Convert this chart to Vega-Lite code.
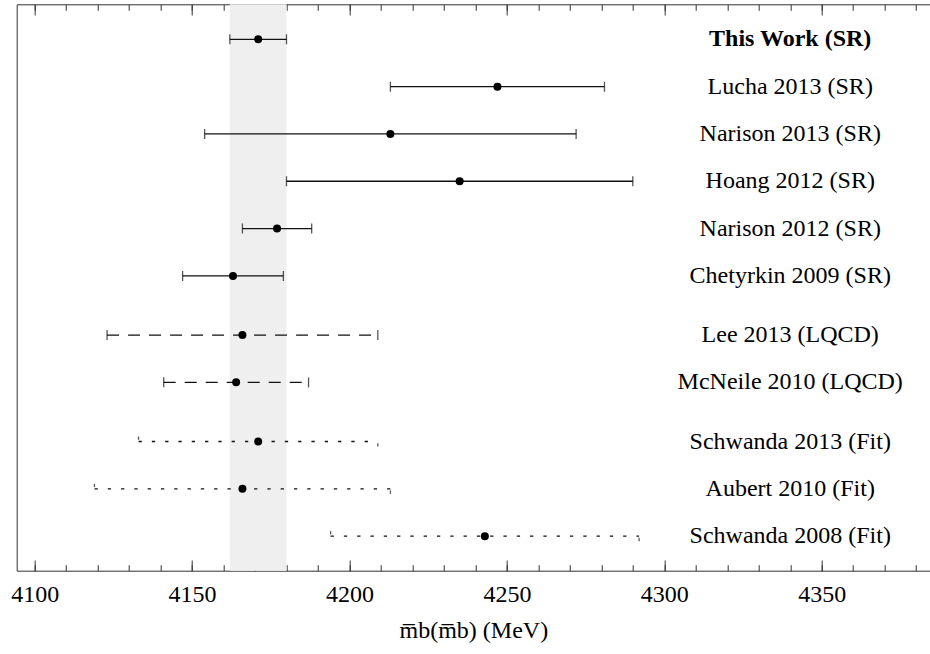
{
  "$schema": "https://vega.github.io/schema/vega-lite/v6.json",
  "width": 913.3,
  "height": 566.4,
  "autosize": "none",
  "padding": {"left": 16.7, "top": 4.3, "right": 0, "bottom": 83.3},
  "background": "white",
  "config": {"view": {"stroke": null}, "font": "Liberation Serif"},
  "data": {"values": [
    {"name": "This Work (SR)", "value": 4171, "lo": 4162, "hi": 4180, "row": 0, "type": "SR"},
    {"name": "Lucha 2013 (SR)", "value": 4247, "lo": 4213, "hi": 4281, "row": 1, "type": "SR"},
    {"name": "Narison 2013 (SR)", "value": 4213, "lo": 4154, "hi": 4272, "row": 2, "type": "SR"},
    {"name": "Hoang 2012 (SR)", "value": 4235, "lo": 4180, "hi": 4290, "row": 3, "type": "SR"},
    {"name": "Narison 2012 (SR)", "value": 4177, "lo": 4166, "hi": 4188, "row": 4, "type": "SR"},
    {"name": "Chetyrkin 2009 (SR)", "value": 4163, "lo": 4147, "hi": 4179, "row": 5, "type": "SR"},
    {"name": "Lee 2013 (LQCD)", "value": 4166, "lo": 4123, "hi": 4209, "row": 6.25, "type": "LQCD"},
    {"name": "McNeile 2010 (LQCD)", "value": 4164, "lo": 4141, "hi": 4187, "row": 7.25, "type": "LQCD"},
    {"name": "Schwanda 2013 (Fit)", "value": 4171, "lo": 4133, "hi": 4209, "row": 8.5, "type": "Fit"},
    {"name": "Aubert 2010 (Fit)", "value": 4166, "lo": 4119, "hi": 4213, "row": 9.5, "type": "Fit"},
    {"name": "Schwanda 2008 (Fit)", "value": 4243, "lo": 4194, "hi": 4292, "row": 10.5, "type": "Fit"}
  ]},
  "resolve": {"axis": {"x": "independent"}},
  "layer": [
    {
      "transform": [{"filter": "datum.name === 'This Work (SR)'"}],
      "mark": {"type": "rect", "color": "#efefef"},
      "encoding": {
        "x": {"field": "lo", "type": "quantitative",
          "scale": {"domain": [4094.3, 4384.4], "nice": false, "zero": false},
          "axis": {"orient": "bottom", "values": [4100, 4150, 4200, 4250, 4300, 4350], "format": "d",
            "tickSize": -10.7, "tickColor": "#333", "tickWidth": 1,
            "domain": true, "domainColor": "#333", "domainWidth": 1,
            "grid": false, "labelFont": "Liberation Serif", "labelFontSize": 24, "labelColor": "#000",
            "labelPadding": 22.7, "labelBaseline": "top", "labelFlush": false, "labelOverlap": false,
            "title": "m̅b(m̅b) (MeV)", "titleFont": "Liberation Serif", "titleFontSize": 24,
            "titleFontWeight": "normal", "titleColor": "#000", "titlePadding": 12}},
        "x2": {"field": "hi"}
      }
    },
    {
      "mark": {"type": "rule", "color": "#111", "strokeWidth": 1.3},
      "encoding": {
        "x": {"field": "lo", "type": "quantitative",
          "scale": {"domain": [4094.3, 4384.4], "nice": false, "zero": false},
          "axis": {"orient": "bottom", "values": [4100, 4110, 4120, 4130, 4140, 4150, 4160, 4170, 4180, 4190, 4200, 4210, 4220, 4230, 4240, 4250, 4260, 4270, 4280, 4290, 4300, 4310, 4320, 4330, 4340, 4350, 4360, 4370, 4380],
            "tickSize": -6, "tickColor": "#333", "tickWidth": 1, "domain": false, "labels": false, "grid": false, "title": null}},
        "x2": {"field": "hi"},
        "y": {"field": "row", "type": "quantitative",
          "scale": {"domain": [-0.74, 11.23], "reverse": true, "nice": false, "zero": false},
          "axis": {"orient": "left", "domain": true, "domainColor": "#333", "domainWidth": 1, "ticks": false, "labels": false, "grid": false, "title": null}},
        "strokeDash": {"field": "type", "type": "nominal",
          "scale": {"domain": ["SR", "LQCD", "Fit"], "range": [[1, 0], [12, 9], [3.3, 10]]}, "legend": null}
      }
    },
    {
      "mark": {"type": "point", "shape": "M0,-1L0,1", "filled": false, "size": 100, "color": "#111", "strokeWidth": 1.3},
      "encoding": {
        "x": {"field": "lo", "type": "quantitative",
          "scale": {"domain": [4094.3, 4384.4], "nice": false, "zero": false},
          "axis": {"orient": "top", "values": [4100, 4150, 4200, 4250, 4300, 4350],
            "tickSize": -10.7, "tickColor": "#333", "tickWidth": 1,
            "domain": true, "domainColor": "#333", "domainWidth": 1, "labels": false, "grid": false, "title": null}},
        "y": {"field": "row", "type": "quantitative",
          "scale": {"domain": [-0.74, 11.23], "reverse": true, "nice": false, "zero": false}},
        "strokeDash": {"field": "type", "type": "nominal",
          "scale": {"domain": ["SR", "LQCD", "Fit"], "range": [[1, 0], [12, 9], [3.3, 10]]}, "legend": null}
      }
    },
    {
      "mark": {"type": "point", "shape": "M0,1L0,-1", "filled": false, "size": 100, "color": "#111", "strokeWidth": 1.3},
      "encoding": {
        "x": {"field": "hi", "type": "quantitative",
          "scale": {"domain": [4094.3, 4384.4], "nice": false, "zero": false},
          "axis": {"orient": "top", "values": [4100, 4110, 4120, 4130, 4140, 4150, 4160, 4170, 4180, 4190, 4200, 4210, 4220, 4230, 4240, 4250, 4260, 4270, 4280, 4290, 4300, 4310, 4320, 4330, 4340, 4350, 4360, 4370, 4380],
            "tickSize": -6, "tickColor": "#333", "tickWidth": 1, "domain": false, "labels": false, "grid": false, "title": null}},
        "y": {"field": "row", "type": "quantitative",
          "scale": {"domain": [-0.74, 11.23], "reverse": true, "nice": false, "zero": false}},
        "strokeDash": {"field": "type", "type": "nominal",
          "scale": {"domain": ["SR", "LQCD", "Fit"], "range": [[1, 0], [12, 9], [3.3, 10]]}, "legend": null}
      }
    },
    {
      "mark": {"type": "circle", "size": 64, "color": "#000", "opacity": 1},
      "encoding": {
        "x": {"field": "value", "type": "quantitative",
          "scale": {"domain": [4094.3, 4384.4], "nice": false, "zero": false}, "axis": null},
        "y": {"field": "row", "type": "quantitative",
          "scale": {"domain": [-0.74, 11.23], "reverse": true, "nice": false, "zero": false}}
      }
    },
    {
      "transform": [{"filter": "datum.name !== 'This Work (SR)'"}],
      "mark": {"type": "text", "font": "Liberation Serif", "fontSize": 24, "align": "center", "baseline": "middle", "color": "#000"},
      "encoding": {
        "x": {"datum": 4340, "type": "quantitative",
          "scale": {"domain": [4094.3, 4384.4], "nice": false, "zero": false}, "axis": null},
        "y": {"field": "row", "type": "quantitative",
          "scale": {"domain": [-0.74, 11.23], "reverse": true, "nice": false, "zero": false}},
        "text": {"field": "name"}
      }
    },
    {
      "transform": [{"filter": "datum.name === 'This Work (SR)'"}],
      "mark": {"type": "text", "font": "Liberation Serif", "fontSize": 24, "fontWeight": "bold", "align": "center", "baseline": "middle", "color": "#000"},
      "encoding": {
        "x": {"datum": 4340, "type": "quantitative",
          "scale": {"domain": [4094.3, 4384.4], "nice": false, "zero": false}, "axis": null},
        "y": {"field": "row", "type": "quantitative",
          "scale": {"domain": [-0.74, 11.23], "reverse": true, "nice": false, "zero": false}},
        "text": {"field": "name"}
      }
    }
  ]
}
